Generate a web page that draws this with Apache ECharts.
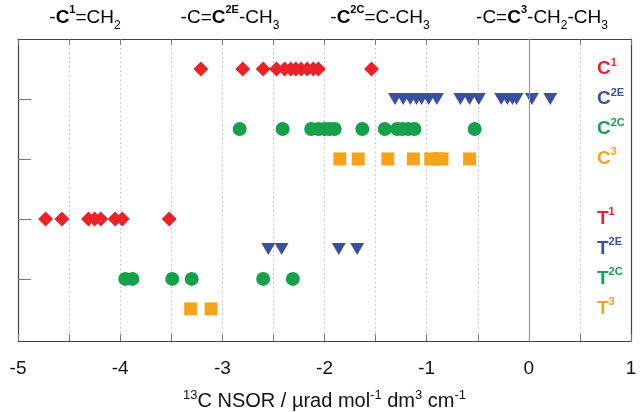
<!DOCTYPE html>
<html>
<head>
<meta charset="utf-8">
<script src="https://cdn.jsdelivr.net/npm/echarts@6/dist/echarts.min.js"></script>
<style>html,body{margin:0;padding:0;background:#fff}#c{width:640px;height:412px}</style>
</head>
<body>
<div id="c"></div>
<script>
// ---- data ----
const rowNames = ['C1', 'C2E', 'C2C', 'C3', 'T1', 'T2E', 'T2C', 'T3'];
const rowLevels = [1, 2, 3, 4, 6, 7, 8, 9];
const rowTicks = [2, 4, 6, 8];
const xTickLabels = [-5, -4, -3, -2, -1, 0, 1];

const c1Values  = [-3.21, -2.80, -2.60, -2.47, -2.39, -2.33, -2.28, -2.23, -2.17, -2.11, -2.06, -1.54];
const c2eValues = [-1.31, -1.23, -1.16, -1.10, -1.05, -0.98, -0.90, -0.67, -0.58, -0.49, -0.27, -0.21, -0.16, -0.12, 0.03, 0.21];
const c2cValues = [-2.83, -2.41, -2.13, -2.06, -2.00, -1.95, -1.90, -1.63, -1.41, -1.29, -1.24, -1.18, -1.12, -0.53];
const c3Values  = [-1.85, -1.67, -1.38, -1.13, -0.96, -0.89, -0.85, -0.58];
const t1Values  = [-4.73, -4.57, -4.31, -4.25, -4.19, -4.05, -3.98, -3.52];
const t2eValues = [-2.55, -2.42, -1.86, -1.68];
const t2cValues = [-3.95, -3.88, -3.49, -3.30, -2.60, -2.31];
const t3Values  = [-3.31, -3.11];

// ---- styles ----
const RED = '#e8232a', BLUE = '#3a4fa0', GREEN = '#16a04a', ORANGE = '#f7a21c';
const FONT = 'Liberation Sans';

const groups = [
  {name: 'C1',  vals: c1Values,  color: RED,    symbol: 'diamond',  size: [15, 15], rot: 0},
  {name: 'C2E', vals: c2eValues, color: BLUE,   symbol: 'triangle', size: [14, 12], rot: 180},
  {name: 'C2C', vals: c2cValues, color: GREEN,  symbol: 'circle',   size: 14, rot: 0},
  {name: 'C3',  vals: c3Values,  color: ORANGE, symbol: 'rect',     size: 13, rot: 0},
  {name: 'T1',  vals: t1Values,  color: RED,    symbol: 'diamond',  size: [15, 15], rot: 0},
  {name: 'T2E', vals: t2eValues, color: BLUE,   symbol: 'triangle', size: [14, 12], rot: 180},
  {name: 'T2C', vals: t2cValues, color: GREEN,  symbol: 'circle',   size: 14, rot: 0},
  {name: 'T3',  vals: t3Values,  color: ORANGE, symbol: 'rect',     size: 13, rot: 0}
];

const rowLabelText = {
  C1: '{rB|C}{rS|1}', C2E: '{bB|C}{bS|2E}', C2C: '{gB|C}{gS|2C}', C3: '{oB|C}{oS|3}',
  T1: '{rB|T}{rS|1}', T2E: '{bB|T}{bS|2E}', T2C: '{gB|T}{gS|2C}', T3: '{oB|T}{oS|3}'
};
function bigSup(color) {
  return [
    {color: color, fontFamily: FONT, fontWeight: 'bold', fontSize: 19, lineHeight: 24},
    {color: color, fontFamily: FONT, fontWeight: 'bold', fontSize: 11, verticalAlign: 'top'}
  ];
}
const rowRich = {};
[['r', RED], ['b', BLUE], ['g', GREEN], ['o', ORANGE]].forEach(([k, c]) => {
  const [b, s] = bigSup(c);
  rowRich[k + 'B'] = b; rowRich[k + 'S'] = s;
});

const HF = 19;
const headRich = {
  n:  {color: '#111', fontFamily: FONT, fontSize: HF, lineHeight: 27},
  s:  {color: '#111', fontFamily: FONT, fontSize: 12, verticalAlign: 'bottom'},
  rB: {color: RED, fontFamily: FONT, fontWeight: 'bold', fontSize: HF, lineHeight: 27},
  rS: {color: RED, fontFamily: FONT, fontWeight: 'bold', fontSize: 11, verticalAlign: 'top'},
  bB: {color: BLUE, fontFamily: FONT, fontWeight: 'bold', fontSize: HF, lineHeight: 27},
  bS: {color: BLUE, fontFamily: FONT, fontWeight: 'bold', fontSize: 11, verticalAlign: 'top'},
  gB: {color: GREEN, fontFamily: FONT, fontWeight: 'bold', fontSize: HF, lineHeight: 27},
  gS: {color: GREEN, fontFamily: FONT, fontWeight: 'bold', fontSize: 11, verticalAlign: 'top'},
  oB: {color: ORANGE, fontFamily: FONT, fontWeight: 'bold', fontSize: HF, lineHeight: 27},
  oS: {color: ORANGE, fontFamily: FONT, fontWeight: 'bold', fontSize: 11, verticalAlign: 'top'}
};
const headers = [
  {x: 85,  text: '{n|-}{rB|C}{rS|1}{n|=CH}{s|2}'},
  {x: 230, text: '{n|-C=}{bB|C}{bS|2E}{n|-CH}{s|3}'},
  {x: 380, text: '{n|-}{gB|C}{gS|2C}{n|=C-CH}{s|3}'},
  {x: 542, text: '{n|-C=}{oB|C}{oS|3}{n|-CH}{s|2}{n|-CH}{s|3}'}
];

const series = groups.map((g, i) => ({
  type: 'scatter',
  name: g.name,
  xAxisIndex: 0, yAxisIndex: 0,
  symbol: g.symbol,
  symbolSize: g.size,
  symbolRotate: g.rot,
  itemStyle: {color: g.color, opacity: 1},
  data: g.vals.map(v => [v, rowLevels[rowNames.indexOf(g.name)]]),
  z: 3
}));
series.push({
  type: 'line', data: [], xAxisIndex: 0, yAxisIndex: 0,
  markLine: {
    silent: true, symbol: 'none', label: {show: false},
    lineStyle: {color: '#999', type: 'solid', width: 1.2},
    data: [{xAxis: 0}]
  }
});

const chart = echarts.init(document.getElementById('c'), null, {renderer: 'canvas'});
chart.setOption({
  animation: false,
  backgroundColor: '#fff',
  grid: {left: 18, right: 9, top: 39, bottom: 71, containLabel: false, outerBoundsMode: 'none'},
  xAxis: [
    {
      type: 'value', position: 'bottom', min: -5, max: 1, interval: 0.5,
      axisLine: {show: true, onZero: false, lineStyle: {color: '#444', width: 1.2}},
      axisTick: {show: true, inside: true, length: 7, lineStyle: {color: '#777'}},
      axisLabel: {customValues: xTickLabels, color: '#111', fontSize: 19, fontFamily: FONT, margin: 18},
      splitLine: {show: true, lineStyle: {color: '#bdbdbd', type: [1.5, 3], width: 1}},
      name: '{s|13}C NSOR / µrad mol{s|-1} dm{s|3} cm{s|-1}',
      nameLocation: 'middle', nameGap: 48,
      nameTextStyle: {
        color: '#111', fontFamily: FONT, fontSize: 20, lineHeight: 24,
        rich: {
          s: {color: '#111', fontFamily: FONT, fontSize: 13, verticalAlign: 'top'}
        }
      }
    },
    {
      type: 'value', position: 'top', min: -5, max: 1, interval: 0.5,
      axisLine: {show: true, onZero: false, lineStyle: {color: '#444', width: 1.2}},
      axisTick: {show: true, inside: true, length: 6, lineStyle: {color: '#777'}},
      axisLabel: {show: false}, splitLine: {show: false}
    }
  ],
  yAxis: [
    {
      type: 'value', position: 'left', min: 0, max: 10.07, inverse: true,
      axisLine: {show: true, onZero: false, lineStyle: {color: '#444', width: 1.2}},
      axisTick: {show: true, inside: true, length: 13, customValues: rowTicks, lineStyle: {color: '#777'}},
      axisLabel: {show: false}, splitLine: {show: false}
    },
    {
      type: 'value', position: 'right', min: 0, max: 10.07, inverse: true,
      axisLine: {show: true, onZero: false, lineStyle: {color: '#444', width: 1.2}},
      axisTick: {show: false},
      axisLabel: {
        show: true, inside: true, align: 'left', margin: 34,
        customValues: rowLevels,
        formatter: v => rowLabelText[rowNames[rowLevels.indexOf(v)]] || '',
        rich: rowRich
      },
      splitLine: {show: false}
    }
  ],
  graphic: headers.map(h => ({
    type: 'text', x: h.x, y: 18,
    style: {text: h.text, rich: headRich, align: 'center', verticalAlign: 'middle', font: HF + 'px ' + FONT}
  })),
  series: series
});
</script>
</body>
</html>
